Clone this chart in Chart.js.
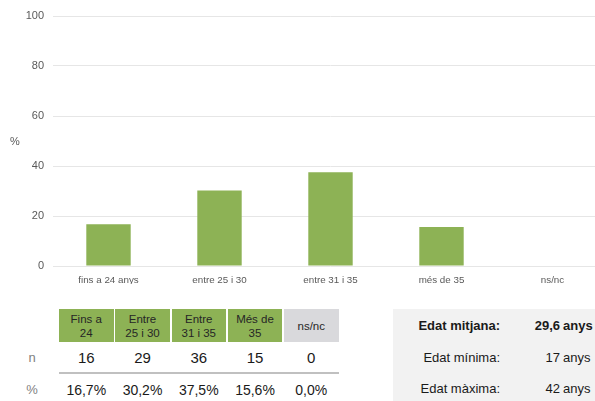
<!DOCTYPE html>
<html><head><meta charset="utf-8">
<script src="https://cdn.jsdelivr.net/npm/chart.js@4.4.0/dist/chart.umd.min.js"></script>
<style>
html,body{margin:0;padding:0;width:595px;height:401px;overflow:hidden;background:#fff;font-family:"Liberation Sans",Arial,sans-serif;}
#wrap{position:absolute;left:0;top:0;width:609px;height:284px;}
.abs{position:absolute;white-space:nowrap;}
</style></head><body>
<div id="wrap"><canvas id="c" width="609" height="284"></canvas></div>
<div class="abs" id="ytitle" style="left:10px;top:135px;font-size:11px;color:#595959;">%</div>
<div id="tbl"></div>
<div id="box"></div>
<script>
const categories = ["fins a 24 anys","entre 25 i 30","entre 31 i 35","més de 35","ns/nc"];
const percentages = [16.7, 30.2, 37.5, 15.6, 0.0];
const counts = [16, 29, 36, 15, 0];
const percentLabels = ["16,7%","30,2%","37,5%","15,6%","0,0%"];
const headerLabels = [["Fins a","24"],["Entre","25 i 30"],["Entre","31 i 35"],["Més de","35"],["ns/nc"]];
const rowLabels = ["n","%"];
const statLabels = ["Edat mitjana:","Edat mínima:","Edat màxima:"];
const statValues = ["29,6","17","42"];
const statUnit = "anys";

const FONT = '"Liberation Sans", Arial, sans-serif';
const GREEN = '#8DB255';

new Chart(document.getElementById('c').getContext('2d'), {
  type: 'bar',
  data: { labels: categories, datasets: [{ data: percentages, backgroundColor: GREEN, barPercentage: 0.4, categoryPercentage: 1 }] },
  options: {
    responsive: false, animation: false, devicePixelRatio: 1,
    layout: { padding: { top: 16, right: 1, bottom: 0, left: 0 } },
    plugins: { legend: { display: false }, tooltip: { enabled: false } },
    scales: {
      x: {
        grid: { display: false, drawTicks: false }, border: { display: false },
        ticks: { color: '#595959', font: { size: 9.8, family: FONT }, padding: 8, maxRotation: 0, autoSkip: false },
        afterFit(s) { s.height = 18; }
      },
      y: {
        min: 0, max: 100,
        ticks: { stepSize: 20, color: '#595959', font: { size: 11, family: FONT }, padding: 9 },
        grid: { color: '#e6e6e6', drawTicks: false }, border: { display: false },
        afterFit(s) { s.width = 53; }
      }
    }
  }
});

function add(parent, html, style) {
  const d = document.createElement('div');
  d.className = 'abs';
  d.innerHTML = html;
  Object.assign(d.style, style);
  parent.appendChild(d);
  return d;
}
const tbl = document.getElementById('tbl');
const x0 = 59, pitch = 56.25, cw = 54.5;
headerLabels.forEach((lines, i) => {
  add(tbl, lines.join('<br>'), {
    left: (x0 + i * pitch) + 'px', top: '309px', width: cw + 'px', height: '33px',
    background: i === headerLabels.length - 1 ? '#D9D9DC' : GREEN,
    display: 'flex', alignItems: 'center', justifyContent: 'center', textAlign: 'center',
    fontSize: '11.5px', lineHeight: '14px', color: '#262626'
  });
});
const rowY = [358, 390];
rowLabels.forEach((lab, r) => {
  add(tbl, lab, { left: '0px', width: '64px', top: (rowY[r] - 8) + 'px', lineHeight: '16px', textAlign: 'center', fontSize: '13px', color: '#7f7f7f' });
});
counts.forEach((v, i) => {
  add(tbl, String(v), { left: (x0 + i * pitch) + 'px', width: cw + 'px', top: (rowY[0] - 9) + 'px', lineHeight: '18px', textAlign: 'center', fontSize: '15px', color: '#1a1a1a' });
});
percentLabels.forEach((v, i) => {
  add(tbl, v, { left: (x0 + i * pitch) + 'px', width: cw + 'px', top: (rowY[1] - 9) + 'px', lineHeight: '18px', textAlign: 'center', fontSize: '14px', color: '#1a1a1a' });
});
add(tbl, '', { left: x0 + 'px', top: '372px', width: (4 * pitch + cw) + 'px', height: '2px', background: '#c0c0c0' });

const box = document.getElementById('box');
add(box, '', { left: '393px', top: '309px', width: '202px', height: '92px', background: '#f2f2f2' });
const statY = [326, 358, 389];
statLabels.forEach((lab, r) => {
  const w = r === 0 ? 'bold' : 'normal';
  add(box, lab, { left: '393px', width: '107px', textAlign: 'right', top: (statY[r] - 8) + 'px', lineHeight: '16px', fontSize: '13px', fontWeight: w, color: '#1a1a1a' });
  add(box, statValues[r], { left: '500px', width: '60px', textAlign: 'right', top: (statY[r] - 8) + 'px', lineHeight: '16px', fontSize: '13px', fontWeight: w, color: '#1a1a1a' });
  add(box, statUnit, { left: '563px', top: (statY[r] - 8) + 'px', lineHeight: '16px', fontSize: '13px', fontWeight: w, color: '#1a1a1a' });
});
</script>
</body></html>
